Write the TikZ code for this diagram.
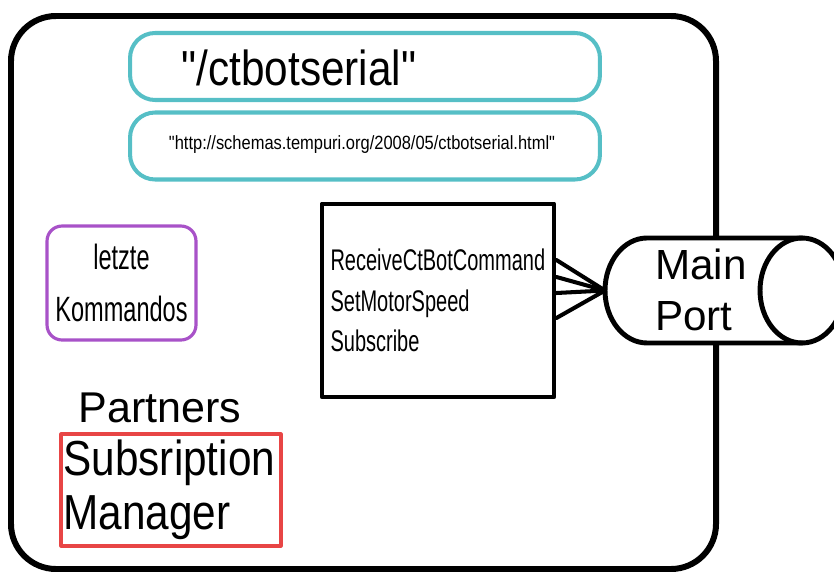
\documentclass[tikz,border=0pt]{standalone}
\usepackage{fontspec}
\setmainfont{Liberation Sans}
\newfontfamily\narrowfont[FakeStretch=0.67]{Liberation Sans}
\newfontfamily\semifont[FakeStretch=0.86]{Liberation Sans}
\definecolor{svcteal}{HTML}{56BFC6}
\definecolor{statepurple}{HTML}{A852C8}
\definecolor{partnerred}{HTML}{E84545}

\begin{document}
\begin{tikzpicture}[x=0.02cm, y=-0.02cm, line join=round, line cap=round,
	namebox/.style={draw=svcteal, line width=2.3pt, rounded corners=0.5cm, minimum width=9.4cm, minimum height=1.34cm},
	statebox/.style={draw=statepurple, line width=1.8pt, rounded corners=0.3cm, minimum width=2.98cm, minimum height=2.28cm, align=center},
	opbox/.style={draw, line width=2.8pt, minimum height=3.86cm, text width=4.3cm, inner xsep=0.17cm, align=left},
	partnerbox/.style={draw=partnerred, line width=1.8pt, text width=4.3cm, minimum height=2.24cm, inner xsep=0.05cm, align=left}]
	\useasboundingbox (0,0) rectangle (834,571);
	\draw[line width=3.4pt, rounded corners=0.9cm] (11,16) rectangle (716,569);
	\node[namebox] (name) at (365,66.5) {};
	\node[font=\semifont\fontsize{28}{32}\selectfont] (nametext) at (299,68) {"/ctbotserial"};
	\node[namebox] (contract) at (365,146) {};
	\node[font=\semifont\fontsize{10.9}{13}\selectfont] (contracttext) at (362,145) {"http://schemas.tempuri.org/2008/05/ctbotserial.html"};
	\node[statebox, font=\narrowfont\fontsize{20}{30}\selectfont] (state) at (121.5,283) {letzte\\Kommandos};
	\node[opbox, font=\narrowfont\fontsize{17}{23}\selectfont] (ops) at (438,300.5) {ReceiveCtBotCommand\\SetMotorSpeed\\Subscribe};
	% port cylinder
	\filldraw[fill=white, line width=2.8pt] (802,238) -- (647,238) arc[start angle=90, end angle=270, x radius=0.84cm, y radius=1.05cm] -- (802,343);
	\draw[line width=2.8pt] (802,290.5) ellipse [x radius=0.84cm, y radius=1.05cm];
	\coordinate (port) at (605,290.5);
	\node[anchor=west, align=left, font=\fontsize{24}{29.5}\selectfont] (porttext) at (649,290) {Main\\Port};
	\foreach \dy in {0.81,0.47,0.15,-0.35}
		\draw[line width=2.3pt] ([yshift=\dy cm]ops.east) -- (port);
	\node[font=\fontsize{24.5}{28}\selectfont] (partners) at (160,408) {Partners};
	\node[partnerbox, font=\semifont\fontsize{28}{31}\selectfont] (submgr) at (171,490) {Subsription\\Manager};
\end{tikzpicture}
\end{document}
